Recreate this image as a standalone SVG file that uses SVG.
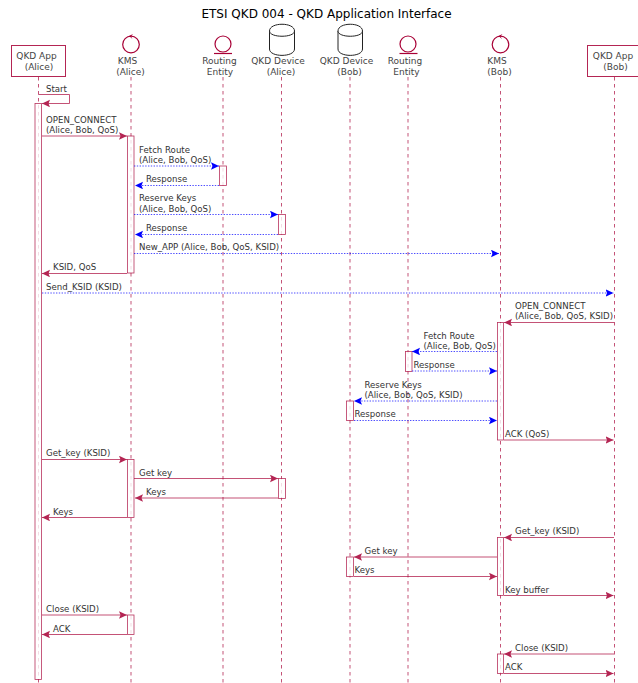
<svg xmlns="http://www.w3.org/2000/svg" width="638" height="683" viewBox="0 0 638 683">
<style>
text{font-family:"DejaVu Sans",sans-serif;font-size:8.6px;fill:#333}
.t{font-size:12px;fill:#000;text-anchor:middle}
.p{font-size:9px;fill:#444;text-anchor:middle}
.life{stroke:#A80036;stroke-width:.8;stroke-dasharray:3.5 3.5;fill:none;opacity:.85}
.act{fill:#fff;stroke:#A80036;stroke-width:.8;opacity:.8}
.m{stroke:#A80036;stroke-width:.8;fill:none;opacity:.85}
.b{stroke:#0000ff;stroke-width:.7;stroke-dasharray:1.4 1.4;fill:none}
.hr{fill:#A80036}.hb{fill:#0000ff}
.ctl{fill:none;stroke:#A80036;stroke-width:1.2}
.box{fill:#fff;stroke:#A80036;stroke-width:1;opacity:.85}
.db{fill:#fff;stroke:#222;stroke-width:1}
</style>
<defs>
<marker id="ar" markerWidth="9" markerHeight="8" refX="8" refY="3.75" orient="auto" markerUnits="userSpaceOnUse"><path d="M0,0L8,3.75L0,7.5L1.5,3.75Z" class="hr"/></marker>
<marker id="ab" markerWidth="9" markerHeight="8" refX="8" refY="3.75" orient="auto" markerUnits="userSpaceOnUse"><path d="M0,0L8,3.75L0,7.5L1.5,3.75Z" class="hb"/></marker>
</defs>
<text class="t" x="326.500" y="18">ETSI QKD 004 - QKD Application Interface</text>
<g id="lifelines">
<path class="life" d="M38.500,77V683M131,77V683M223,77V683M281.500,77V683M350,77V683M408,77V683M500.500,77V683M614.500,77V683"/>
</g>
<g id="alice-app"><rect class="box" x="11.500" y="45.500" width="54" height="31"/><text class="p" x="36.500" y="59">QKD App</text><text class="p" x="39" y="69.500">(Alice)</text></g>
<g id="kms-alice"><circle class="ctl" cx="131" cy="44.500" r="8.300"/><path class="hr" d="M133,34L129,36L132.500,39L131,36.500Z"/><text class="p" x="127.500" y="64">KMS</text><text class="p" x="130.500" y="74.500">(Alice)</text></g>
<g id="routing-alice"><circle class="ctl" cx="223" cy="44" r="8"/><path class="ctl" d="M214,53.500H232"/><text class="p" x="219.500" y="64">Routing</text><text class="p" x="220" y="74.500">Entity</text></g>
<g id="device-alice"><path class="db" d="M269.500,31C269.500,22 294.500,22 294.500,31V49C294.500,57.500 269.500,57.500 269.500,49Z"/><path class="db" d="M269.500,31C269.500,38 294.500,38 294.500,31"/><text class="p" x="278" y="64">QKD Device</text><text class="p" x="281" y="74.500">(Alice)</text></g>
<g id="device-bob"><path class="db" d="M338,31C338,22 362.500,22 362.500,31V49C362.500,57.500 338,57.500 338,49Z"/><path class="db" d="M338,31C338,38 362.500,38 362.500,31"/><text class="p" x="346.500" y="64">QKD Device</text><text class="p" x="349.500" y="74.500">(Bob)</text></g>
<g id="routing-bob"><circle class="ctl" cx="408" cy="44" r="8"/><path class="ctl" d="M399.500,53.500H417.500"/><text class="p" x="405" y="64">Routing</text><text class="p" x="406.500" y="74.500">Entity</text></g>
<g id="kms-bob"><circle class="ctl" cx="500.500" cy="44.500" r="8.300"/><path class="hr" d="M502.500,34L498.500,36L502,39L500.500,36.500Z"/><text class="p" x="497" y="64">KMS</text><text class="p" x="499.500" y="74.500">(Bob)</text></g>
<g id="bob-app"><rect class="box" x="587.500" y="45.500" width="54" height="31"/><text class="p" x="613" y="59">QKD App</text><text class="p" x="615.500" y="69.500">(Bob)</text></g>
<g id="activations">
<rect class="act" x="35" y="103.500" width="6.500" height="576"/>
<rect class="act" x="127.500" y="136" width="6.500" height="137"/>
<rect class="act" x="219.500" y="166" width="7" height="19.500"/>
<rect class="act" x="278.500" y="214.500" width="7" height="20"/>
<rect class="act" x="497.500" y="322.500" width="6" height="117.500"/>
<rect class="act" x="405.500" y="351.500" width="6.500" height="20"/>
<rect class="act" x="346.500" y="401" width="7" height="19.500"/>
<rect class="act" x="127.500" y="459.500" width="6.500" height="58"/>
<rect class="act" x="278.500" y="478.500" width="7" height="20"/>
<rect class="act" x="497.500" y="537.500" width="6" height="58"/>
<rect class="act" x="346.500" y="557" width="7" height="19.500"/>
<rect class="act" x="127.500" y="615" width="6.500" height="19.500"/>
<rect class="act" x="497.500" y="654" width="6" height="19.500"/>
</g>
<g id="connectors">
<path class="m" d="M38.500,94.500H69.500V103.500H42" marker-end="url(#ar)"/>
<path class="m" d="M42,136H127" marker-end="url(#ar)"/>
<path class="b" d="M134,166H219" marker-end="url(#ab)"/>
<path class="b" d="M219,185.500H135" marker-end="url(#ab)"/>
<path class="b" d="M134,214.500H278" marker-end="url(#ab)"/>
<path class="b" d="M278,234.500H135" marker-end="url(#ab)"/>
<path class="b" d="M134,253.500H499" marker-end="url(#ab)"/>
<path class="m" d="M127,273.500H42" marker-end="url(#ar)"/>
<path class="b" d="M42,293H613.500" marker-end="url(#ab)"/>
<path class="m" d="M614,322.500H504" marker-end="url(#ar)"/>
<path class="b" d="M497,351.500H412" marker-end="url(#ab)"/>
<path class="b" d="M412,371H497" marker-end="url(#ab)"/>
<path class="b" d="M497,401H354" marker-end="url(#ab)"/>
<path class="b" d="M354,420.500H497" marker-end="url(#ab)"/>
<path class="m" d="M504,440H613.500" marker-end="url(#ar)"/>
<path class="m" d="M42,459.500H127" marker-end="url(#ar)"/>
<path class="m" d="M134,478.500H278" marker-end="url(#ar)"/>
<path class="m" d="M278,498H135" marker-end="url(#ar)"/>
<path class="m" d="M127,517.500H42" marker-end="url(#ar)"/>
<path class="m" d="M614,537.500H504" marker-end="url(#ar)"/>
<path class="m" d="M497,557H354" marker-end="url(#ar)"/>
<path class="m" d="M354,576.500H497" marker-end="url(#ar)"/>
<path class="m" d="M504,595.500H613.500" marker-end="url(#ar)"/>
<path class="m" d="M42,615H127" marker-end="url(#ar)"/>
<path class="m" d="M127,634.500H42" marker-end="url(#ar)"/>
<path class="m" d="M614,654H504" marker-end="url(#ar)"/>
<path class="m" d="M504,673.500H613.500" marker-end="url(#ar)"/>
</g>
<g id="labels">
<text x="46" y="92">Start</text>
<text x="46" y="123">OPEN_CONNECT</text><text x="46" y="133">(Alice, Bob, QoS)</text>
<text x="139" y="152.500">Fetch Route</text><text x="139" y="163">(Alice, Bob, QoS)</text>
<text x="146" y="182">Response</text>
<text x="139" y="201">Reserve Keys</text><text x="139" y="211.500">(Alice, Bob, QoS)</text>
<text x="146" y="231">Response</text>
<text x="139" y="250">New_APP (Alice, Bob, QoS, KSID)</text>
<text x="53" y="270">KSID, QoS</text>
<text x="46" y="289.500">Send_KSID (KSID)</text>
<text x="515" y="309">OPEN_CONNECT</text><text x="515" y="319">(Alice, Bob, QoS, KSID)</text>
<text x="423.500" y="338.500">Fetch Route</text><text x="423.500" y="349">(Alice, Bob, QoS)</text>
<text x="413.500" y="368">Response</text>
<text x="364.500" y="388">Reserve Keys</text><text x="364.500" y="398">(Alice, Bob, QoS, KSID)</text>
<text x="354.500" y="417">Response</text>
<text x="505" y="436.500">ACK (QoS)</text>
<text x="46" y="456">Get_key (KSID)</text>
<text x="139" y="476">Get key</text>
<text x="146" y="495">Keys</text>
<text x="53" y="514.500">Keys</text>
<text x="515" y="534">Get_key (KSID)</text>
<text x="364.500" y="554">Get key</text>
<text x="354.500" y="573">Keys</text>
<text x="505" y="592.500">Key buffer</text>
<text x="46" y="611.500">Close (KSID)</text>
<text x="53" y="631.500">ACK</text>
<text x="515" y="651">Close (KSID)</text>
<text x="505" y="670">ACK</text>
</g>
</svg>
